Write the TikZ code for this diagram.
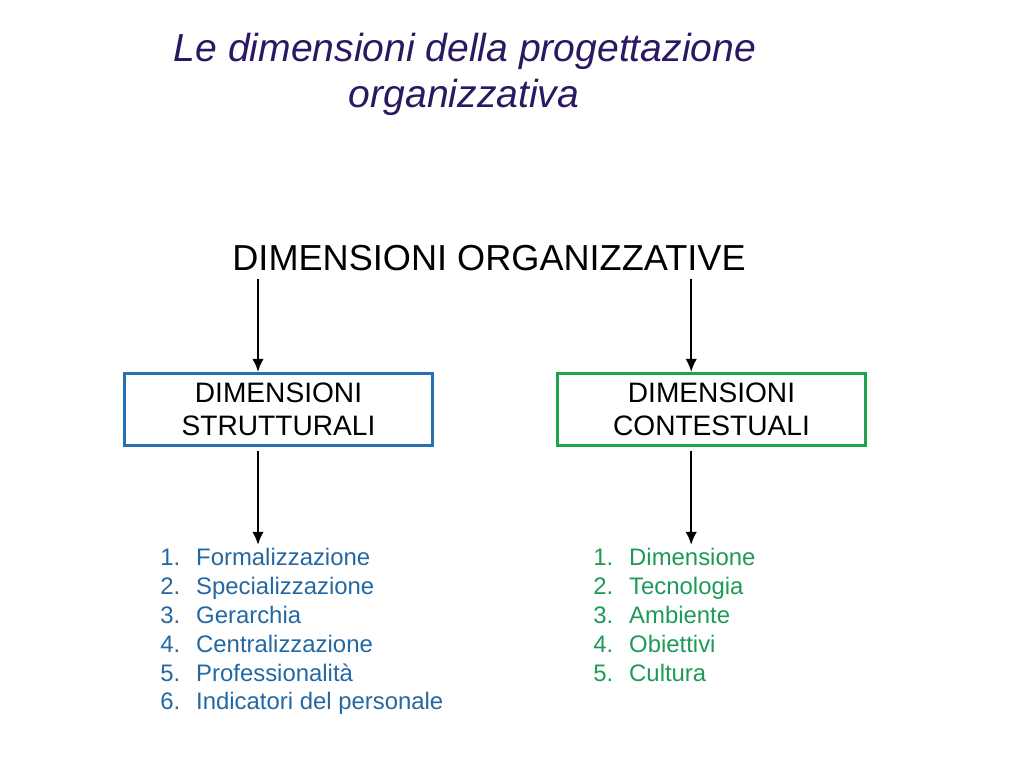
\documentclass[tikz,border=0pt]{standalone}
\usepackage{fontspec}
\setmainfont{Liberation Sans}
\usepackage{xcolor}
\usepackage{tikz}
\usetikzlibrary{arrows.meta,positioning,calc}
\definecolor{titlepurple}{HTML}{2B1862}
\definecolor{strutblue}{HTML}{2870B6}
\definecolor{listblue}{HTML}{2468A2}
\definecolor{contgreen}{HTML}{20A24C}
\definecolor{listgreen}{HTML}{1E9A58}

\begin{document}
\begin{tikzpicture}[
    x=1cm,y=1cm,
    >=Latex,
    title/.style={font=\fontsize{27.8}{33}\selectfont\itshape, text=titlepurple, inner sep=0pt, anchor=base},
    heading/.style={font=\fontsize{25.7}{30}\selectfont, text=black, inner sep=5pt, anchor=base},
    dimbox/.style={draw, line width=2.1pt, fill=white, minimum width=7.7cm, minimum height=1.8cm, inner sep=2pt, align=center, font=\fontsize{20}{23.4}\selectfont},
    itemlist/.style={anchor=north west, inner sep=0pt, font=\fontsize{17}{20.55}\selectfont},
    flow/.style={-{Latex[length=3.3mm,width=2.9mm]}, line width=1.6pt, draw=black}
]
\useasboundingbox (0,0) rectangle (25.6,19.2);

% Title
\node[title] (title1) at (11.625,17.65) {Le dimensioni della progettazione};
\node[title] (title2) at (11.6,16.5) {organizzativa};

% Heading
\node[heading] (top) at (12.225,12.425) {DIMENSIONI ORGANIZZATIVE};

% Boxes
\node[dimbox, draw=strutblue] (strut) at (6.9625,8.9625) {DIMENSIONI\\STRUTTURALI};
\node[dimbox, draw=contgreen] (cont) at (17.7875,8.9625) {DIMENSIONI\\CONTESTUALI};

% Lists
\node[itemlist, text=listblue] (slist) at (4.0,5.575) {%
    \begin{tabular}{@{}l@{\hspace{0.4cm}}l@{}}
    1. & Formalizzazione\\
    2. & Specializzazione\\
    3. & Gerarchia\\
    4. & Centralizzazione\\
    5. & Professionalità\\
    6. & Indicatori del personale
    \end{tabular}};
\node[itemlist, text=listgreen] (clist) at (14.825,5.575) {%
    \begin{tabular}{@{}l@{\hspace{0.4cm}}l@{}}
    1. & Dimensione\\
    2. & Tecnologia\\
    3. & Ambiente\\
    4. & Obiettivi\\
    5. & Cultura
    \end{tabular}};

% Arrows
\coordinate (lcol) at (6.45,0);
\coordinate (rcol) at (17.28,0);
\draw[flow] (top.south -| lcol) -- (strut.north -| lcol);
\draw[flow] (top.south -| rcol) -- (cont.north -| rcol);
\draw[flow, shorten <=3pt] (strut.south -| lcol) -- (slist.north -| lcol);
\draw[flow, shorten <=3pt] (cont.south -| rcol) -- (clist.north -| rcol);

\end{tikzpicture}
\end{document}
